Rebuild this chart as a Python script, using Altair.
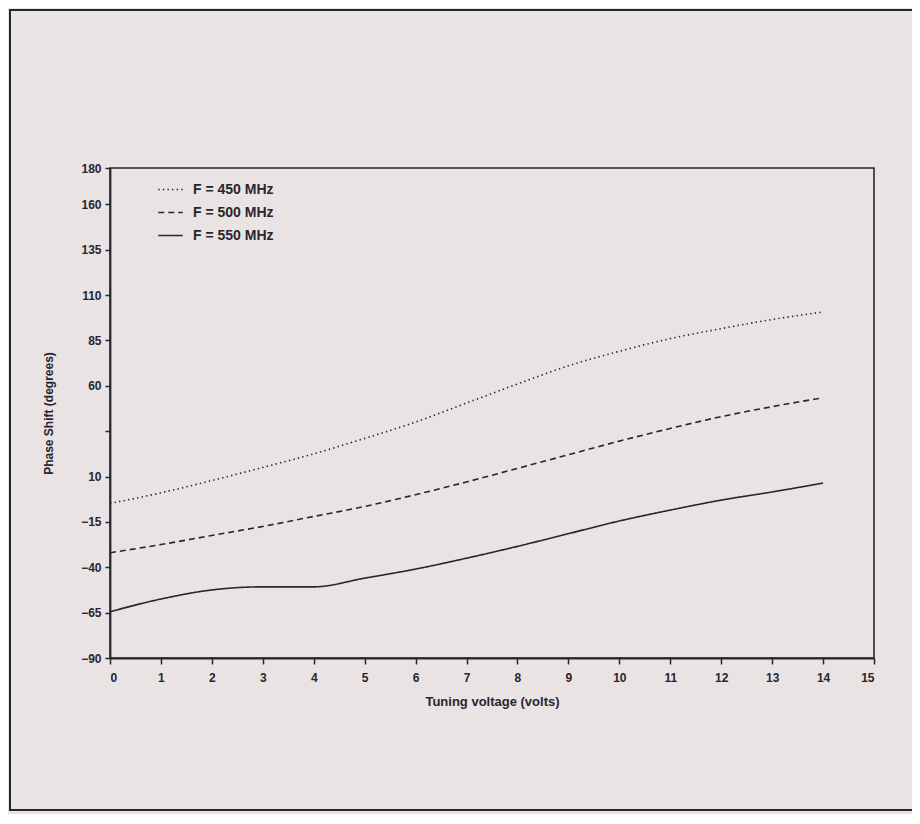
import altair as alt
import pandas as pd

# ---- data ----
volts = [0, 1, 2, 3, 4, 5, 6, 7, 8, 9, 10, 11, 12, 13, 14]
f450 = [-4.8, 1.0, 7.8, 15.0, 22.5, 31.0, 40.0, 50.5, 61.0, 71.0, 79.0, 86.0, 91.5, 96.5, 100.7]
f500 = [-32.0, -27.5, -22.5, -17.5, -12.0, -6.5, 0.0, 7.0, 14.5, 22.0, 29.5, 36.5, 43.0, 48.5, 53.4]
f550 = [-64.5, -57.5, -52.5, -50.8, -50.8, -46.0, -41.0, -35.0, -28.5, -21.5, -14.5, -8.5, -3.0, 1.5, 6.4]
series = ["F = 450 MHz", "F = 500 MHz", "F = 550 MHz"]
y_ticks = [-90, -65, -40, -15, 10, 35, 60, 85, 110, 135, 160, 180]
x_ticks = list(range(16))

rows = []
for name, vals in zip(series, [f450, f500, f550]):
    for v, p in zip(volts, vals):
        rows.append({"volts": v, "phase": p, "series": name})
df = pd.DataFrame(rows)

ink = "#27262f"
paper = "#e9e4e3"

lines = alt.Chart(df).mark_line(strokeWidth=1.6, color=ink, interpolate="monotone").encode(
    x=alt.X("volts:Q", scale=alt.Scale(domain=[0, 15], nice=False),
            axis=alt.Axis(values=x_ticks, title="Tuning voltage (volts)", tickSize=6,
                          labelPadding=8, titlePadding=12, format="d", titleFontSize=13)),
    y=alt.Y("phase:Q", scale=alt.Scale(domain=[-90, 180], nice=False),
            axis=alt.Axis(values=y_ticks, title="Phase Shift (degrees)", tickSize=5,
                          labelPadding=4, titlePadding=25,
                          labelExpr="datum.value == 35 ? '' : datum.label")),
    strokeDash=alt.StrokeDash("series:N",
                              scale=alt.Scale(domain=series, range=[[1.4, 3.2], [6, 4], [1, 0]]),
                              legend=alt.Legend(orient="none", legendX=47, legendY=8, title=None,
                                                symbolType="stroke", symbolStrokeColor=ink,
                                                symbolStrokeWidth=1.6, symbolSize=600,
                                                labelFontSize=14, labelFontWeight="bold",
                                                labelColor=ink, labelFont="Liberation Sans",
                                                rowPadding=2, labelOffset=9)),
    detail="series:N",
)

frame = alt.Chart(pd.DataFrame({"a": [0]})).mark_rect(
    fillOpacity=0, stroke=ink, strokeWidth=2
).encode(
    x=alt.value(-100), x2=alt.value(803), y=alt.value(-158), y2=alt.value(642)
)

chart = alt.layer(frame, lines).properties(
    width=764, height=490,
    autosize=alt.AutoSizeParams(type="none"),
    padding={"left": 102, "top": 160, "right": 38, "bottom": 156},
    background=paper,
).configure_view(
    stroke=ink, strokeWidth=1.6
).configure_axis(
    grid=False, domainColor=ink, domainWidth=1.8, tickColor=ink, tickWidth=1.5,
    labelFont="Liberation Sans", labelFontWeight="bold", labelFontSize=12, labelColor=ink,
    titleFont="Liberation Sans", titleFontWeight="bold", titleFontSize=12, titleColor=ink,
)

chart.save("out.html", embed_options={"renderer": "svg", "actions": False})
